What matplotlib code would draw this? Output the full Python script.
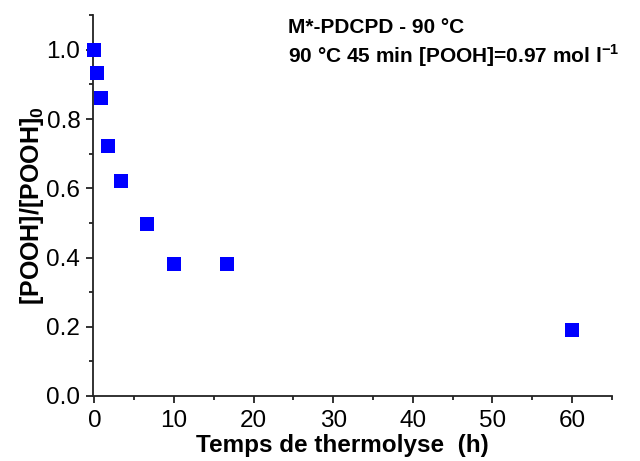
import matplotlib
matplotlib.use("Agg")
import matplotlib.pyplot as plt
from matplotlib.ticker import MultipleLocator, FormatStrFormatter

plt.rcParams['font.family'] = ['Liberation Sans', 'DejaVu Sans']
plt.rcParams['mathtext.fontset'] = 'custom'
plt.rcParams['mathtext.rm'] = 'Liberation Sans'
plt.rcParams['mathtext.bf'] = 'Liberation Sans:bold'

# Thermolysis kinetics of hydroperoxides
time_h = [0, 0.375, 0.79, 1.71, 3.4, 6.67, 10.0, 16.67, 60.0]
pooh_ratio = [1.0, 0.933, 0.86, 0.723, 0.622, 0.497, 0.381, 0.381, 0.19]

fig = plt.figure(figsize=(6.4, 4.61), dpi=100)
ax = fig.add_axes([0.145, 0.141, 0.811, 0.826])

ax.plot(time_h, pooh_ratio, linestyle='none', marker='s', markersize=10.5,
        color='#0000ff', markeredgewidth=0, clip_on=False, zorder=3)

ax.set_xlim(-0.2, 65)
ax.set_ylim(0, 1.1)
ax.xaxis.set_major_locator(MultipleLocator(10))
ax.xaxis.set_minor_locator(MultipleLocator(5))
ax.yaxis.set_major_locator(MultipleLocator(0.2))
ax.yaxis.set_minor_locator(MultipleLocator(0.1))
ax.yaxis.set_major_formatter(FormatStrFormatter('%.1f'))

for side in ('top', 'right'):
    ax.spines[side].set_visible(False)
for side in ('left', 'bottom'):
    ax.spines[side].set_linewidth(1.3)
    ax.spines[side].set_color('#222222')

ax.tick_params(which='major', direction='out', length=5, width=1.3,
               labelsize=17.5, colors='#222222', labelcolor='black')
ax.tick_params(axis='x', which='major', pad=5)
ax.tick_params(axis='y', which='major', pad=4)
ax.tick_params(which='minor', direction='out', length=3, width=1.3,
               colors='#222222')

ax.set_xlabel('Temps de thermolyse  (h)', fontsize=17.5, fontweight='bold',
              labelpad=-1)
ax.xaxis.set_label_coords(0.48, -0.1, transform=ax.transAxes)
ax.xaxis.label.set_va('top')
ax.set_ylabel(r'[POOH]/[POOH]$_\mathbf{0}$', fontsize=18, fontweight='bold',
              labelpad=0)

ax.text(0.376, 0.953, 'M*-PDCPD - 90 °C', transform=ax.transAxes,
        fontsize=15, fontweight='bold', va='baseline', ha='left')
ax.text(0.376, 0.874, r'90 °C 45 min [POOH]=0.97 mol l$^{\mathbf{-1}}$',
        transform=ax.transAxes, fontsize=15, fontweight='bold',
        va='baseline', ha='left')

fig.savefig('out.png', dpi=100)
